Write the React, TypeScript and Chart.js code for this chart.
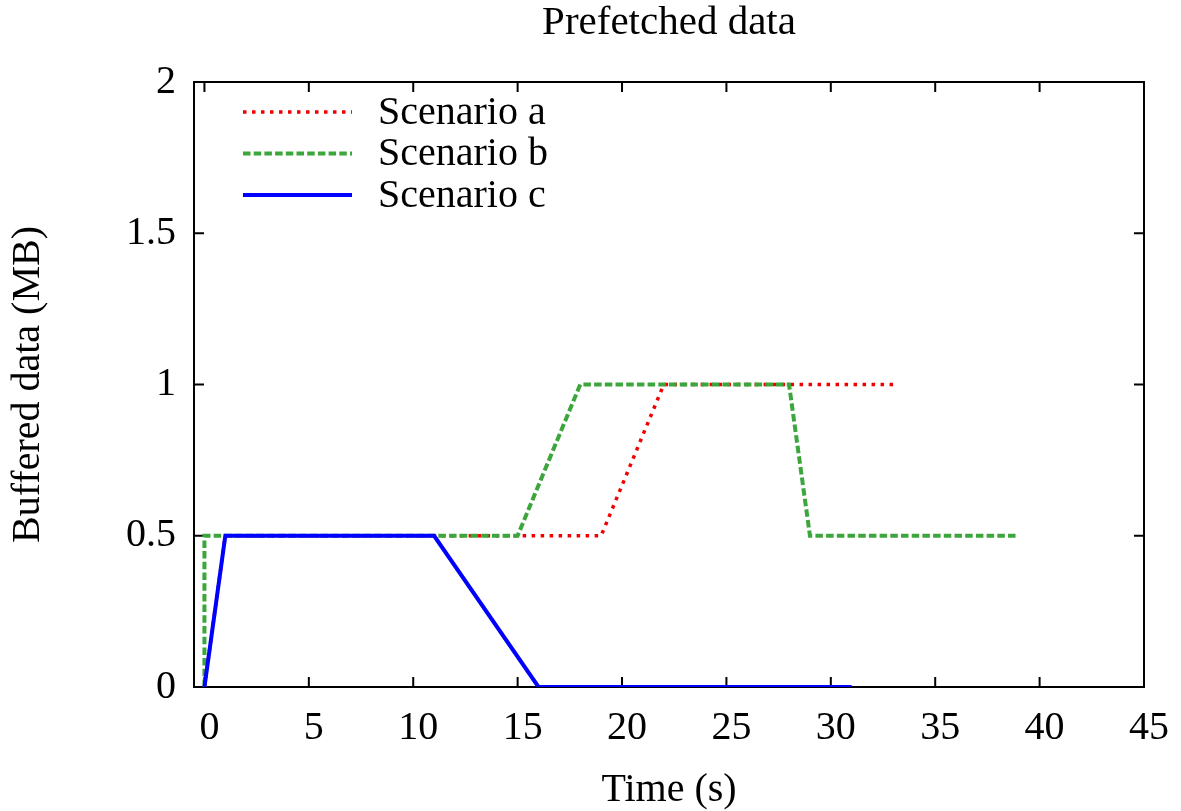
import React, { useEffect, useRef } from "react";
import { Chart, registerables } from "chart.js";

Chart.register(...registerables);

// ---- Data ----
const chartTitle = "Prefetched data";
const seriesNames = ["Scenario a", "Scenario b", "Scenario c"];
const timeA = [0, 1, 19, 22, 33];
const dataA = [0, 0.5, 0.5, 1, 1];
const timeB = [0, 0, 15, 18, 28, 29, 39];
const dataB = [0, 0.5, 0.5, 1, 1, 0.5, 0.5];
const timeC = [0, 1, 11, 16, 31];
const dataC = [0, 0.5, 0.5, 0, 0];
const xTicks = [0, 5, 10, 15, 20, 25, 30, 35, 40, 45];
const xTickLabels = ["0", "5", "10", "15", "20", "25", "30", "35", "40", "45"];
const yTicks = [0, 0.5, 1, 1.5, 2];
const yTickLabels = ["0", "0.5", "1", "1.5", "2"];

const FONT = "'Liberation Serif', 'DejaVu Serif', serif";
const colors = ["#f00000", "#3ca63c", "#0000ff"];
const dashes: number[][] = [[3.5, 5.5], [7.5, 3.2], []];
const widths = [3.5, 4, 4];

const toPts = (xs: number[], ys: number[]) => xs.map((x, i) => ({ x, y: ys[i] }));

const framePlugin = {
  id: "frame",
  beforeDatasetsDraw(chart: any) {
    const { ctx, chartArea, scales } = chart;
    const { left, right, top, bottom } = chartArea;
    const TL = 10;
    ctx.save();
    ctx.strokeStyle = "#000";
    ctx.lineWidth = 2;
    ctx.strokeRect(left, top, right - left, bottom - top);
    ctx.beginPath();
    scales.x.ticks.forEach((t: any) => {
      const px = scales.x.getPixelForValue(t.value);
      ctx.moveTo(px, bottom);
      ctx.lineTo(px, bottom - TL);
      ctx.moveTo(px, top);
      ctx.lineTo(px, top + TL);
    });
    scales.y.ticks.forEach((t: any) => {
      const py = scales.y.getPixelForValue(t.value);
      ctx.moveTo(left, py);
      ctx.lineTo(left + TL, py);
      ctx.moveTo(right, py);
      ctx.lineTo(right - TL, py);
    });
    ctx.stroke();
    // title centred over the plot area
    ctx.fillStyle = "#000";
    ctx.font = `41px ${FONT}`;
    ctx.textAlign = "center";
    ctx.textBaseline = "alphabetic";
    ctx.fillText(chartTitle, (left + right) / 2, 34);
    ctx.restore();
  },
  afterDatasetsDraw(chart: any) {
    const { ctx, chartArea } = chart;
    const { left, top } = chartArea;
    ctx.save();
    seriesNames.forEach((name, i) => {
      const yRow = top + 30 + i * 41.5;
      ctx.beginPath();
      ctx.strokeStyle = colors[i];
      ctx.lineWidth = widths[i];
      ctx.setLineDash(dashes[i]);
      ctx.lineCap = "butt";
      ctx.moveTo(left + 49, yRow);
      ctx.lineTo(left + 158, yRow);
      ctx.stroke();
      ctx.setLineDash([]);
      ctx.fillStyle = "#000";
      ctx.font = `40px ${FONT}`;
      ctx.textAlign = "left";
      ctx.textBaseline = "middle";
      ctx.fillText(name, left + 184, yRow + 1);
    });
    ctx.restore();
  },
};

export default function App() {
  const ref = useRef<HTMLCanvasElement>(null);
  useEffect(() => {
    if (!ref.current) return;
    const series = [
      toPts(timeA, dataA),
      toPts(timeB, dataB),
      toPts(timeC, dataC),
    ];
    const chart = new Chart(ref.current, {
      type: "line",
      data: {
        datasets: series.map((pts, i) => ({
          label: seriesNames[i],
          data: pts,
          borderColor: colors[i],
          backgroundColor: colors[i],
          borderWidth: widths[i],
          borderDash: dashes[i],
          borderCapStyle: "butt",
          pointRadius: 0,
          tension: 0,
          fill: false,
          order: 3 - i,
        })),
      },
      options: {
        animation: false,
        responsive: false,
        devicePixelRatio: 1,
        events: [],
        layout: { padding: { left: 0, right: 35, top: 82, bottom: 0 } },
        plugins: {
          legend: { display: false },
          tooltip: { enabled: false },
          title: { display: false },
        },
        scales: {
          x: {
            type: "linear",
            min: -0.5,
            max: 45,
            grid: { display: false, drawTicks: false },
            border: { display: false },
            afterBuildTicks: (s: any) => {
              s.ticks = xTicks.map((v) => ({ value: v }));
            },
            afterFit: (s: any) => {
              s.height = 124;
            },
            ticks: {
              color: "#000",
              padding: 17,
              labelOffset: 5,
              maxRotation: 0,
              autoSkip: false,
              font: { family: FONT, size: 40 },
              callback: (_v: any, i: number) => xTickLabels[i],
            },
            title: {
              display: true,
              text: "Time (s)",
              color: "#000",
              font: { family: FONT, size: 40, lineHeight: 1 },
              padding: { top: 0, bottom: 1 },
            },
          },
          y: {
            type: "linear",
            min: 0,
            max: 2,
            grid: { display: false, drawTicks: false },
            border: { display: false },
            afterBuildTicks: (s: any) => {
              s.ticks = yTicks.map((v) => ({ value: v }));
            },
            afterFit: (s: any) => {
              s.width = 194;
            },
            ticks: {
              color: "#000",
              padding: 18,
              autoSkip: false,
              font: { family: FONT, size: 40 },
              callback: (_v: any, i: number) => yTickLabels[i],
            },
            title: {
              display: true,
              text: "Buffered data (MB)",
              color: "#000",
              font: { family: FONT, size: 40 },
              padding: { top: 4, bottom: 0 },
            },
          },
        },
      },
      plugins: [framePlugin],
    } as any);
    return () => chart.destroy();
  }, []);
  return (
    <div style={{ position: "absolute", left: 0, top: 0, width: 1181, height: 811 }}>
      <canvas ref={ref} width={1181} height={811} style={{ width: 1181, height: 811, display: "block" }} />
    </div>
  );
}
